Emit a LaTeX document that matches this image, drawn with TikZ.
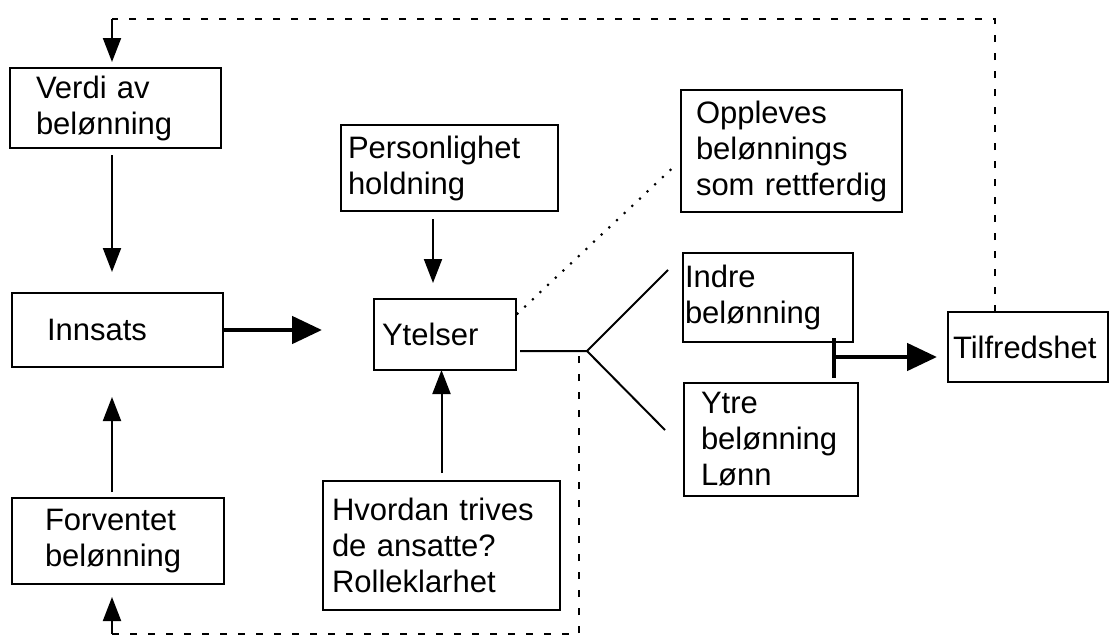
\documentclass[tikz,border=0pt]{standalone}
\usepackage{fontspec}
\setmainfont{Liberation Sans}
\usetikzlibrary{arrows.meta}
\begin{document}
\begin{tikzpicture}[x=1pt,y=-1pt,
  box/.style={draw, line width=2pt, anchor=north west, outer sep=0pt, inner ysep=0pt, align=left, font=\fontsize{31}{36}\selectfont},
  con/.style={line width=2pt},
  arr/.style={con, -{Triangle[length=24pt,width=18pt]}},
  bigarr/.style={line width=4.8pt, -{Triangle[length=30pt,width=27pt]}},
  dashline/.style={line width=2pt, dash pattern=on 7pt off 11pt},
  dotline/.style={line width=3pt, line cap=round, dash pattern=on 0pt off 10.5pt}]
\useasboundingbox (0,0) rectangle (1111,640);
% boxes
\node[box, text width=159pt, inner xsep=26pt, minimum height=80pt] (verdi) at (10,68) {Verdi av\\belønning};
\node[box, text width=141pt, inner xsep=35pt, minimum height=74pt] (innsats) at (12,293) {Innsats};
\node[box, text width=146pt, inner xsep=33pt, minimum height=86pt] (forv) at (12,498) {Forventet\\belønning};
\node[box, text width=203pt, inner xsep=7pt, minimum height=86pt] (pers) at (341,125) {Personlighet\\holdning};
\node[box, text width=126pt, inner xsep=8pt, minimum height=71pt] (ytel) at (374,299) {Ytelser};
\node[box, text width=219pt, inner xsep=9pt, minimum height=129pt] (hv) at (323,481) {\mbox{Hvordan trives}\\de ansatte?\\Rolleklarhet};
\node[box, text width=191pt, inner xsep=15pt, minimum height=122pt] (opp) at (681,90) {Oppleves\\belønnings\\\mbox{som rettferdig}};
\node[box, text width=166pt, inner xsep=2pt, minimum height=89pt] (indre) at (683,253) {Indre\\belønning};
\node[box, text width=140pt, inner xsep=17pt, minimum height=113pt] (ytre) at (684,383) {Ytre\\belønning\\Lønn};
\node[box, text width=150pt, inner xsep=5pt, minimum height=70pt] (tilf) at (948,312) {\mbox{Tilfredshet}};
% coordinates
\coordinate (tl) at (112,19);
\coordinate (tr) at (995,19);
\coordinate (bl) at (112,634);
\coordinate (br) at (579,634);
\coordinate (j) at (587,351);
\coordinate (bi) at (668,270);
\coordinate (bo) at (665,430);
\coordinate (bt) at (834,338);
\coordinate (bb) at (834,378);
\coordinate (bm) at (834,357);
\coordinate (pa) at (433,0);
% connectors
\draw[dashline] (tilf.north -| tr) -- (tr) -- (tl);
\draw[arr, shorten >=6pt] (tl) -- (verdi.north -| tl);
\draw[arr, shorten <=7pt, shorten >=21pt] (verdi.south -| tl) -- (innsats.north -| tl);
\draw[arr, shorten <=6pt, shorten >=30pt] (forv.north -| tl) -- (innsats.south -| tl);
\draw[dashline] (bl) -- (br) -- (br |- j);
\draw[arr, shorten >=13pt] (bl) -- (forv.south -| bl);
\draw[bigarr, shorten >=52pt] (innsats.east) -- (innsats.east -| ytel.west);
\draw[arr, shorten <=8pt, shorten >=16pt] (pers.south -| pa) -- (ytel.north -| pa);
\draw[arr, shorten <=8pt] (hv.north) -- (hv.north |- ytel.south);
\draw[con, shorten <=4pt] (j -| ytel.east) -- (j) -- (bi);
\draw[con] (j) -- (bo);
\draw[dotline, shorten <=2pt, shorten >=6pt] ([yshift=-16pt]ytel.north east) -- ([yshift=-9pt]opp.west);
\draw[line width=4.8pt] (bt) -- (bb);
\draw[bigarr, shorten >=11pt] (bm) -- (bm -| tilf.west);
\end{tikzpicture}
\end{document}
